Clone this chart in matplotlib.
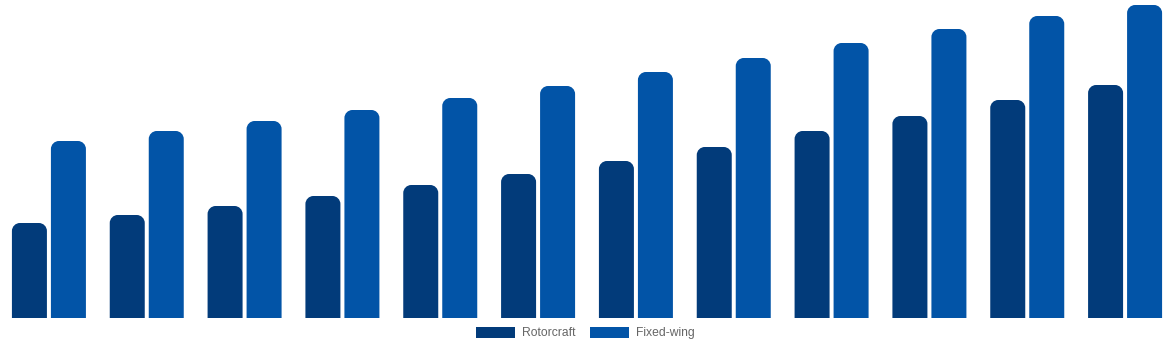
import numpy as np
import matplotlib.pyplot as plt
from matplotlib.patches import PathPatch, Patch
from matplotlib.path import Path

plt.rcParams['font.family'] = ['Liberation Sans', 'DejaVu Sans']

# values (bar heights, arbitrary units)
years = list(range(12))
rotorcraft = [95, 103, 112, 122, 133, 144, 157, 171, 187, 202, 218, 233]
fixed_wing = [177, 187, 197, 208, 220, 232, 246, 260, 275, 289, 302, 313]

ROTOR_COLOR = '#023b7a'
FIXED_COLOR = '#0254a7'

W, H = 1174, 350
fig = plt.figure(figsize=(W / 100, H / 100), dpi=100)
ax = fig.add_axes([0, 32 / H, 1, 318 / H])
ax.set_xlim(-0.5, len(years) - 0.5)
ax.set_ylim(0, 318)
ax.axis('off')

px_x = len(years) / W      # data units per pixel, x
px_y = 1.0                 # data units per pixel, y
bar_w = 35 * px_x
offset = 19.5 * px_x
radius_px = 8
K = 0.5523  # cubic bezier circle approximation


def rounded_bar(x_center, height, color):
    # one path: flat bottom, rounded top corners
    x0, x1 = x_center - bar_w / 2, x_center + bar_w / 2
    rx, ry = radius_px * px_x, radius_px * px_y
    h = height
    verts = [(x0, 0), (x0, h - ry),
             (x0, h - ry + K * ry), (x0 + rx - K * rx, h), (x0 + rx, h),
             (x1 - rx, h),
             (x1 - rx + K * rx, h), (x1, h - ry + K * ry), (x1, h - ry),
             (x1, 0), (x0, 0)]
    codes = [Path.MOVETO, Path.LINETO,
             Path.CURVE4, Path.CURVE4, Path.CURVE4,
             Path.LINETO,
             Path.CURVE4, Path.CURVE4, Path.CURVE4,
             Path.LINETO, Path.CLOSEPOLY]
    ax.add_patch(PathPatch(Path(verts, codes), facecolor=color,
                           edgecolor='none', linewidth=0))


x = np.arange(len(years))
for xi, r, f in zip(x, rotorcraft, fixed_wing):
    rounded_bar(xi - offset, r, ROTOR_COLOR)
    rounded_bar(xi + offset, f, FIXED_COLOR)

handles = [Patch(facecolor=ROTOR_COLOR, edgecolor='none', label='Rotorcraft'),
           Patch(facecolor=FIXED_COLOR, edgecolor='none', label='Fixed-wing')]
fig.legend(handles=handles, loc='center', bbox_to_anchor=(0.4985, 1 - 333 / H),
           ncol=2, frameon=False, fontsize=8.7, labelcolor='#666666',
           handlelength=3.2, handleheight=1.05, handletextpad=0.6,
           columnspacing=1.2, borderpad=0)

fig.savefig('out.png', dpi=100)
